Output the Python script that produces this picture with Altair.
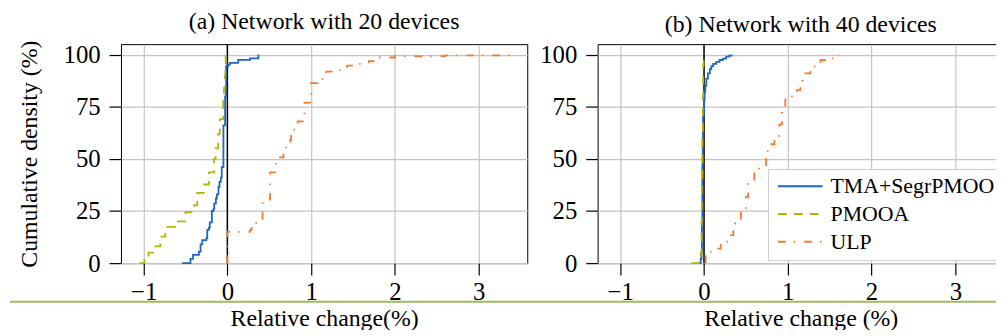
import altair as alt
import pandas as pd

FONT = "Liberation Serif"

SERIES = ["TMA+SegrPMOO", "PMOOA", "ULP"]
COLORS = ["#1f66c0", "#b5b400", "#f07d32"]
DASHES = [[1, 0], [9, 7], [8, 8, 1.5, 9]]

X_TICKS = [-1, 0, 1, 2, 3]
Y_TICKS = [0, 25, 50, 75, 100]

TITLES = ["(a) Network with 20 devices", "(b) Network with 40 devices"]
X_TITLES = ["Relative change(%)", "Relative change (%)"]
Y_TITLE = "Cumulative density (%)"

# ---- (a) 20 devices : empirical CDF step points (x = relative change %, y = cumulative %)
a_tma_x = [-0.54, -0.44, -0.41, -0.34, -0.32, -0.30, -0.25, -0.24, -0.22, -0.21, -0.185, -0.165,
           -0.157, -0.137, -0.126, -0.106, -0.094, -0.078, -0.067, -0.047, -0.027, -0.015, 0.012,
           0.032, 0.13, 0.27, 0.37]
a_tma_y = [0, 2, 4, 5.5, 9, 11, 12, 16, 17, 19.5, 25, 26, 28.5, 31, 33, 36.5, 39, 41, 46, 66, 80,
           94.5, 95.3, 96, 97.5, 98.2, 100]

a_pmooa_x = [-1.05, -0.99, -0.94, -0.86, -0.80, -0.74, -0.72, -0.62, -0.50, -0.40, -0.36, -0.28,
             -0.22, -0.16, -0.14, -0.11, -0.09, -0.05, -0.04, -0.03, -0.025, -0.02]
a_pmooa_y = [0, 3, 5, 8, 12.7, 15, 17.4, 20, 24.5, 27.7, 33.7, 37.7, 43.5, 50, 55, 62, 69, 78, 84,
             90, 95, 100]

a_ulp_x = [0, 0, 0.27, 0.29, 0.40, 0.42, 0.505, 0.51, 0.58, 0.67, 0.70, 0.75, 0.76, 0.84, 0.90,
           0.92, 0.99, 1.0, 1.08, 1.18, 1.30, 1.43, 1.53, 1.69, 1.77, 2.0, 2.6, 3.36]
a_ulp_y = [0, 15, 16, 19.3, 21.4, 30, 31, 43.5, 50.7, 54, 56.2, 59, 64, 68, 70, 77, 80, 86.3, 88.2,
           91.8, 92.5, 94.7, 95.5, 96.9, 98.6, 99.2, 99.6, 100]

# ---- (b) 40 devices
b_tma_x = [-0.06, -0.04, -0.03, -0.025, -0.02, -0.015, -0.012, -0.005, 0.0, 0.007, 0.015, 0.027,
           0.047, 0.07, 0.087, 0.11, 0.146, 0.185, 0.225, 0.264, 0.30, 0.33]
b_tma_y = [0, 2, 5, 20, 47, 60, 70, 72, 78, 82, 85, 88.5, 91, 93, 94.5, 95.5, 96.5, 97.4, 98.1, 99,
           99.5, 100]

b_pmooa_x = [-0.15, -0.06, -0.04, -0.03, -0.025, -0.02, -0.015, -0.01, -0.005]
b_pmooa_y = [0, 1, 5, 20, 40, 60, 80, 95, 100]

b_ulp_x = [0.02, 0.02, 0.12, 0.2, 0.3, 0.35, 0.37, 0.44, 0.5, 0.526, 0.6, 0.656, 0.74, 0.76, 0.84,
           0.9, 0.93, 0.955, 0.97, 1.05, 1.11, 1.15, 1.17, 1.21, 1.27, 1.32, 1.39, 1.45, 1.55, 1.61]
b_ulp_y = [0, 5.5, 7, 10.3, 13.4, 16.6, 19, 26, 31.7, 38.8, 44.5, 46, 52, 57, 61, 66.5, 72, 75,
           78.4, 80, 83, 85, 87.4, 91, 93.4, 94.7, 97.4, 98.2, 99, 100]

ZERO_LINE = [0]


def make_df(xs_list, ys_list):
    rows = []
    for name, xs, ys in zip(SERIES, xs_list, ys_list):
        for i, (x, y) in enumerate(zip(xs, ys)):
            rows.append({"series": name, "x": x, "y": y, "i": i})
    return pd.DataFrame(rows)


W, H = 410, 221
XDOM = [-1.27, 3.58]
YDOM = [0, 105]


def panel(df, title, xtitle, ytitle, show_legend, decor=False):
    xscale = alt.Scale(domain=XDOM, nice=False, zero=False)
    yscale = alt.Scale(domain=YDOM, nice=False, zero=False)
    xaxis = alt.Axis(values=X_TICKS, title=xtitle, labelPadding=5, titlePadding=2,
                     format="d")
    if ytitle:
        yaxis = alt.Axis(values=Y_TICKS, title=ytitle, labelPadding=9, titlePadding=22)
    else:
        yaxis = alt.Axis(values=Y_TICKS, title=None, labelPadding=9)
    if show_legend:
        legend = alt.Legend(orient="none", legendX=172, legendY=126, title=None,
                            fillColor="white", strokeColor="#cccccc", padding=7,
                            labelFont=FONT, labelFontSize=22, labelColor="black",
                            symbolType="stroke", symbolSize=2025, symbolStrokeWidth=2,
                            symbolOffset=2, labelOffset=7, rowPadding=5, clipHeight=21,
                            labelLimit=400, cornerRadius=0)
    else:
        legend = None

    zdf = pd.DataFrame({"x": ZERO_LINE})
    zero = alt.Chart(zdf).mark_rule(color="black", strokeWidth=1.5).encode(
        x=alt.X("x:Q", scale=xscale, axis=xaxis)
    )
    lines = alt.Chart(df).mark_line(interpolate="step-after", strokeWidth=1.8).encode(
        x=alt.X("x:Q", scale=xscale, axis=xaxis),
        y=alt.Y("y:Q", scale=yscale, axis=yaxis),
        color=alt.Color("series:N", scale=alt.Scale(domain=SERIES, range=COLORS),
                        legend=legend),
        strokeDash=alt.StrokeDash("series:N", scale=alt.Scale(domain=SERIES, range=DASHES),
                                  legend=legend),
        order=alt.Order("i:Q"),
    )
    layers = [zero, lines]
    if decor:
        deco = alt.Chart(pd.DataFrame({"x": ZERO_LINE})).mark_rule(
            color="#9cbb5a", strokeWidth=2).encode(
            x=alt.value(-112), x2=alt.value(884), y=alt.value(H + 39))
        layers.append(deco)
    return alt.layer(*layers).properties(
        width=W, height=H,
        title=alt.TitleParams(title, fontSize=24, font=FONT, fontWeight="normal",
                              color="black", offset=6, anchor="middle"),
    )


left = panel(make_df([a_tma_x, a_pmooa_x, a_ulp_x], [a_tma_y, a_pmooa_y, a_ulp_y]),
             TITLES[0], X_TITLES[0], Y_TITLE, False, decor=True)
right = panel(make_df([b_tma_x, b_pmooa_x, b_ulp_x], [b_tma_y, b_pmooa_y, b_ulp_y]),
              TITLES[1], X_TITLES[1], None, True)

chart = alt.hconcat(left, right, spacing=71, bounds="flush").resolve_scale(
    color="independent", strokeDash="independent"
).properties(
    padding={"left": 0, "top": 0, "right": -9, "bottom": -3}
).configure_view(
    stroke="black", strokeWidth=1
).configure_axis(
    gridColor="#c4c4c4", gridWidth=1.2, tickColor="black", domain=False,
    labelFont=FONT, titleFont=FONT, labelFontSize=25, titleFontSize=24,
    titleFontWeight="normal", tickSize=12, labelColor="black", titleColor="black",
    tickWidth=1.2,
)

chart.save("out.html", embed_options={"renderer": "svg", "actions": False})
